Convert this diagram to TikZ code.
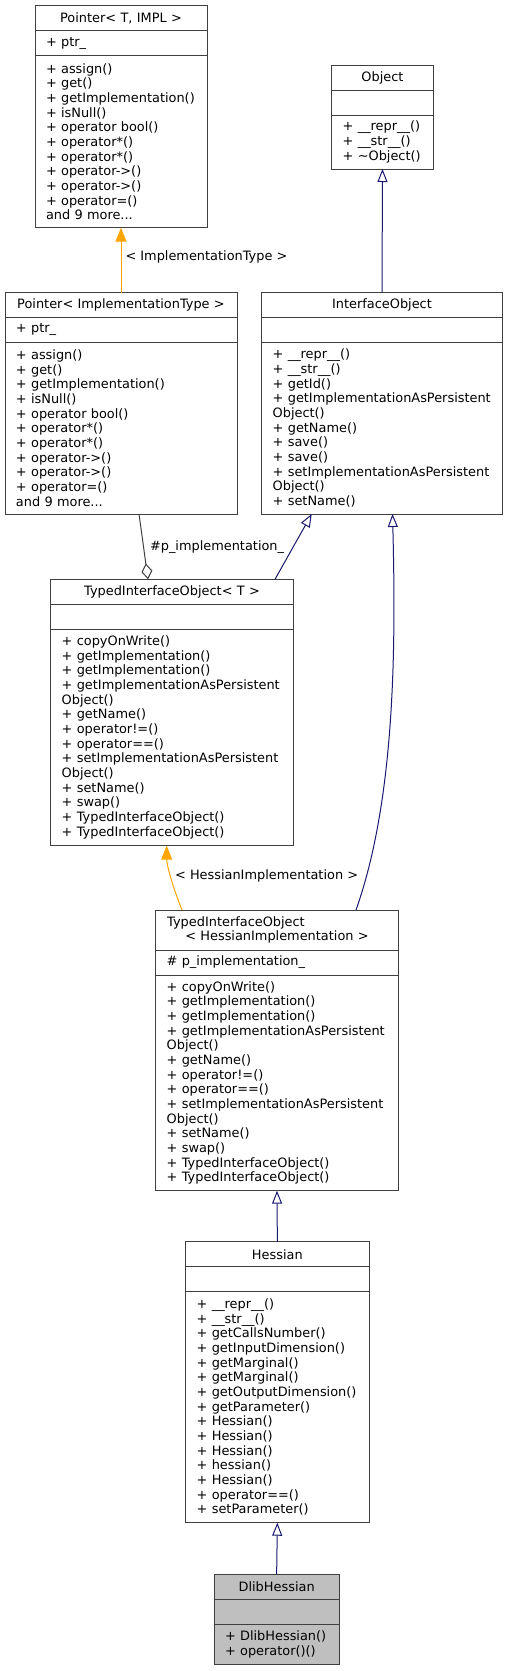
\documentclass[tikz,border=0pt]{standalone}
\usepackage{fontspec}
\setmainfont{DejaVu Sans}
\usepackage{tikz}
\usetikzlibrary{arrows.meta,% open triangles and diamonds
positioning}%                  stacks the three parts of a class
\hyphenpenalty=10000 \exhyphenpenalty=10000 \hbadness=10000 \hfuzz=5pt
\definecolor{inhblue}{HTML}{191970}
\definecolor{tmplorange}{HTML}{FFA500}
\definecolor{usegray}{HTML}{404040}
\definecolor{boxgray}{HTML}{BFBFBF}
\tikzset{every node/.style={font=\fontsize{12.9}{14.67}\selectfont},
  part/.style={draw=usegray, line width=1pt, inner sep=0pt, outer sep=0pt},
  inherit/.style={draw=inhblue, line width=1pt,
    -{Triangle[open, length=13pt, width=10pt]}},
  instance/.style={draw=tmplorange, line width=1pt,
    -{Triangle[length=14pt, width=11pt]}},
  usage/.style={draw=usegray, line width=1pt,
    -{Diamond[open, length=16pt, width=11pt]}},
  elabel/.style={inner sep=0pt}}
% [fill]{name}{top left}{width}{title}{attributes}{methods}{title height}{methods height}
\newcommand{\umlclass}[9][white]
{\pgfmathsetmacro{\classtw}{#4-22}
  \node[part, fill=#1, anchor=north west, minimum width=#4pt,
    minimum height=#8pt, text width=\classtw pt, align=center] (#2) at (#3) {#5};
  \node[part, fill=#1, below=0pt of #2, minimum width=#4pt,
    minimum height=25pt, text width=\classtw pt, align=left] (#2-attr) {#6};
  \node[part, fill=#1, below=0pt of #2-attr, minimum width=#4pt,
    minimum height=#9pt, text width=\classtw pt, align=left] (#2-ops) {#7};}

\begin{document}
\begin{tikzpicture}[x=1pt,y=-1pt]
\useasboundingbox (0,0) rectangle (509,1671);
\umlclass{ptrT}{35,5.7}{172}{Pointer< T, IMPL >}{+~ptr\_}
  {+~assign()\\+~get()\\+~getImplementation()\\+~isNull()\\+~operator~bool()\\
   +~operator*()\\+~operator*()\\+~operator->()\\+~operator->()\\+~operator=()\\
   and~9~more...}{25}{172}
\umlclass{obj}{331.7,65}{101.6}{Object}{}
  {+~\_\_repr\_\_()\\+~\_\_str\_\_()\\+~\textasciitilde Object()}{25}{54}
\umlclass{ptrIT}{5,292.7}{232}{Pointer<~ImplementationType~>}{+~ptr\_}
  {+~assign()\\+~get()\\+~getImplementation()\\+~isNull()\\+~operator~bool()\\
   +~operator*()\\+~operator*()\\+~operator->()\\+~operator->()\\+~operator=()\\
   and~9~more...}{24.3}{172}
\umlclass{iobj}{261.7,292.7}{240.6}{InterfaceObject}{}
  {+~\_\_repr\_\_()\\+~\_\_str\_\_()\\+~getId()\\+~getImplementationAsPersistent\\
   Object()\\+~getName()\\+~save()\\+~save()\\+~setImplementationAsPersistent\\
   Object()\\+~setName()}{24.3}{172}
\umlclass{tioT}{50.7,579.3}{242.6}{TypedInterfaceObject<~T~>}{}
  {+~copyOnWrite()\\+~getImplementation()\\+~getImplementation()\\
   +~getImplementationAsPersistent\\Object()\\+~getName()\\+~operator!=()\\
   +~operator==()\\+~setImplementationAsPersistent\\Object()\\+~setName()\\
   +~swap()\\+~TypedInterfaceObject()\\+~TypedInterfaceObject()}{24.7}{216.7}
\umlclass{tioH}{155.7,910}{242.6}
  {\makebox[\linewidth][l]{\hspace*{0.5pt}TypedInterfaceObject}\\<~HessianImplementation~>}
  {\#~p\_implementation\_}
  {+~copyOnWrite()\\+~getImplementation()\\+~getImplementation()\\
   +~getImplementationAsPersistent\\Object()\\+~getName()\\+~operator!=()\\
   +~operator==()\\+~setImplementationAsPersistent\\Object()\\+~setName()\\
   +~swap()\\+~TypedInterfaceObject()\\+~TypedInterfaceObject()}{40}{215.7}
\umlclass{hess}{185.7,1241.7}{183.3}{Hessian}{}
  {+~\_\_repr\_\_()\\+~\_\_str\_\_()\\+~getCallsNumber()\\+~getInputDimension()\\
   +~getMarginal()\\+~getMarginal()\\+~getOutputDimension()\\+~getParameter()\\
   +~Hessian()\\+~Hessian()\\+~Hessian()\\+~hessian()\\+~Hessian()\\
   +~operator==()\\+~setParameter()}{25}{231}
\umlclass[boxgray]{dlib}{214,1574}{125.3}{DlibHessian}{}
  {+~DlibHessian()\\+~operator()()}{25}{40.3}
% relations
\draw[instance] (ptrIT.north) -- node[elabel, right=4pt, pos=0.55]
  {< ImplementationType >} (ptrT-ops.south);
\draw[inherit] (iobj.north) -- (obj-ops.south);
\draw[inherit] ([xshift=-18.3pt]tioT.north east) -- ([xshift=50pt]iobj-ops.south west);
\draw[usage] ([xshift=18pt]ptrIT-ops.south) -- node[elabel, right=6pt]
  {\#p\_implementation\_} ([xshift=97.3pt]tioT.north west);
\draw[instance] ([xshift=26.3pt]tioH.north west) .. controls +(-10,-25) and +(0,19)
  .. node[elabel, right=4pt] {< HessianImplementation >} ([xshift=116pt]tioT-ops.south west);
\draw[inherit] ([xshift=-42.3pt]tioH.north east) .. controls +(39,-110) and +(3.5,135)
  .. ([xshift=10.5pt]iobj-ops.south);
\draw[inherit] (hess.north) -- (tioH-ops.south);
\draw[inherit] (dlib.north) -- (hess-ops.south);
\end{tikzpicture}
\end{document}
